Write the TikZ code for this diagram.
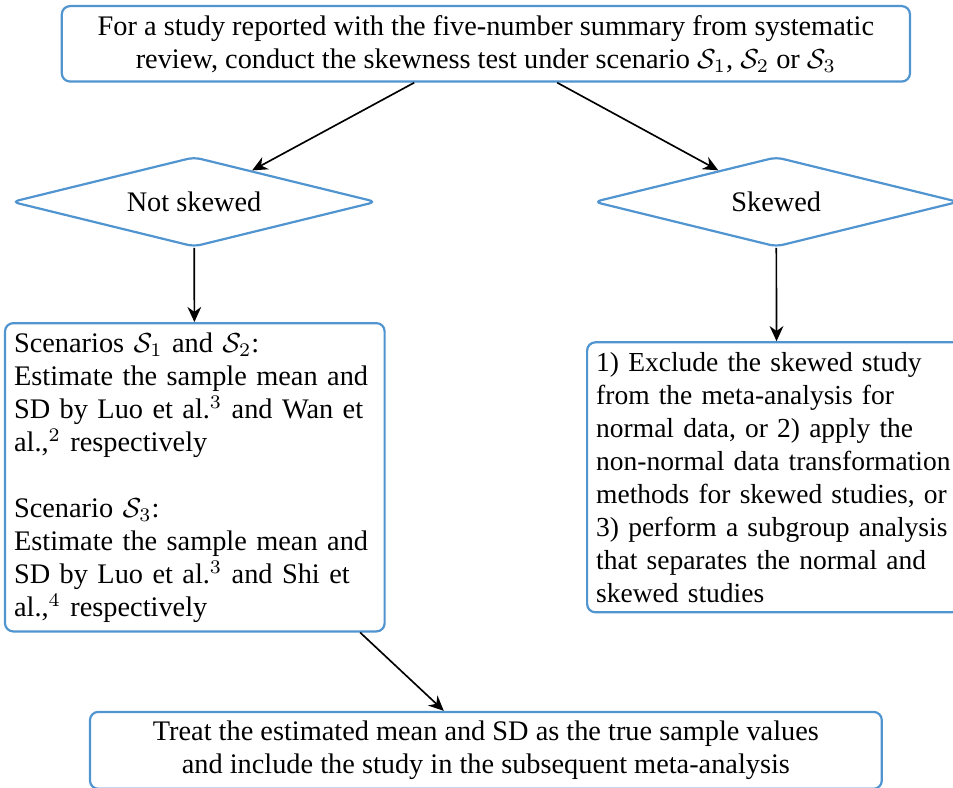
\documentclass[tikz,border=0pt]{standalone}
\usepackage{fontspec}
\setmainfont{Liberation Serif}
\usepackage{amsmath}
\usepackage{tikz}
\usetikzlibrary{shapes.geometric, arrows.meta, positioning}
\definecolor{myblue}{RGB}{80,148,208}
\definecolor{mydark}{RGB}{0,0,0}
\tikzset{
  block/.style={rectangle, draw=myblue, fill=white, line width=0.8pt,
    rounded corners=3pt, inner sep=3.3pt},
  decision/.style={diamond, aspect=4, draw=myblue, fill=white, line width=0.8pt,
    rounded corners=2.5pt, inner sep=0pt,
    minimum width=4.66cm, minimum height=1.15cm},
  arrow/.style={-{Stealth[length=5.5pt, width=5pt]}, semithick, color=mydark}
}

\begin{document}
\begin{tikzpicture}[every node/.style={font=\fontsize{10.3}{12}\selectfont}]
    \useasboundingbox (0,0) rectangle (12.18,-10.07);
    \clip (0,0) rectangle (12.18,-10.07);

    % Start
    \node[block, minimum width=10.84cm, minimum height=0.92cm, align=center]
      (start) at (6.21,-0.56)
      {For a study reported with the five-number summary from systematic\\
       review, conduct the skewness test under scenario $\mathcal{S}_1$, $\mathcal{S}_2$ or $\mathcal{S}_3$};

    % Test outcome
    \node[decision] (noskew) at (2.48,-2.58) {Not skewed};
    \node[decision] (skew) at (9.92,-2.58) {Skewed};

    % Normal branch
    \node[block, minimum width=4.83cm, minimum height=3.94cm,
      text width=4.62cm, align=left] (normal) at (2.49,-6.10)
      {Scenarios $\mathcal{S}_1$ and $\mathcal{S}_2$:\\
       Estimate the sample mean and\\
       SD by Luo et al.$^3$ and Wan et\\
       al.,$^2$ respectively\\[12pt]
       Scenario $\mathcal{S}_3$:\\
       Estimate the sample mean and\\
       SD by Luo et al.$^3$ and Shi et\\
       al.,$^4$ respectively};

    % Skewed branch
    \node[block, minimum width=4.83cm, minimum height=3.45cm,
      text width=4.62cm, align=left, font=\fontsize{10}{12}\selectfont]
      (other) at (9.93,-6.10)
      {\mbox{1) Exclude the skewed study}\\
       \mbox{from the meta-analysis for}\\
       \mbox{normal data, or 2) apply the}\\
       \mbox{non-normal data transformation}\\
       \mbox{methods for skewed studies, or}\\
       \mbox{3) perform a subgroup analysis}\\
       \mbox{that separates the normal and}\\
       \mbox{skewed studies}};

    % End
    \node[block, minimum width=10.12cm, minimum height=0.95cm, align=center]
      (final) at (6.21,-9.59)
      {Treat the estimated mean and SD as the true sample values\\
       and include the study in the subsequent meta-analysis};

    % Connectors
    \draw[arrow] (start) -- (noskew);
    \draw[arrow] (start) -- (skew);
    \draw[arrow] (noskew) -- (normal);
    \draw[arrow] (skew) -- (other);
    \draw[arrow] (normal) -- (final);
  \end{tikzpicture}
\end{document}
